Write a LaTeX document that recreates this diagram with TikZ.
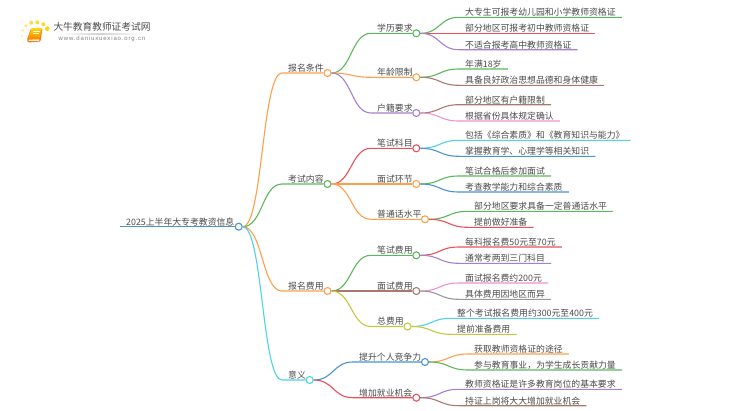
\documentclass[tikz,border=0pt]{standalone}
\usepackage{fontspec}
\setmainfont{Noto Sans CJK SC}
\newfontfamily\urlfont[LetterSpace=14]{Liberation Sans}
\usepackage{tikz}
\usetikzlibrary{calc}

\definecolor{ink}{HTML}{4A4A4A}
\definecolor{lgreen}{HTML}{5CB85C}
\definecolor{lred}{HTML}{E8515A}
\definecolor{lpurple}{HTML}{A67FD0}
\definecolor{lorange}{HTML}{FF9F4A}
\definecolor{lbrown}{HTML}{A9796F}
\definecolor{lpink}{HTML}{EE92D0}
\definecolor{lcyan}{HTML}{4DD3E3}
\definecolor{lblue}{HTML}{4A94D4}
\definecolor{lgrey}{HTML}{999999}
\definecolor{lolive}{HTML}{C6C83E}

\tikzset{
    leaf/.style={anchor=south west, inner xsep=6pt, inner ysep=0.6pt, text height=7.6pt, text depth=0.9pt, text=ink, font=\fontsize{8.85pt}{10pt}\selectfont},
    knot/.style={circle, draw=#1, fill=white, inner sep=0pt, minimum size=7pt, line width=1.1pt},
    link/.style={line width=1.1pt},
    branch/.style={to path={.. controls +(20,0) and +(-20,0) .. (\tikztotarget)}}
}

\begin{document}
\begin{tikzpicture}[x=1pt, y=-1pt]
    \useasboundingbox (0,0) rectangle (750,410);

    % logo
    \fill[yellow!75!orange] (47.3,28.7) circle (2.3);
    \fill[yellow!70!orange, opacity=.85] (43.3,24.3) circle (2);
    \fill[yellow!70!orange, opacity=.8] (37.3,22.3) circle (2);
    \fill[yellow!70!orange, opacity=.75] (31.3,22.7) circle (2);
    \fill[yellow!70!orange, opacity=.6] (26,25.7) circle (1.7);
    \fill[yellow!70!orange, opacity=.45] (22.7,30.3) circle (1.5);
    \fill[yellow!70!orange, opacity=.3] (22,35.7) circle (1.3);
    \fill[yellow!70!orange, opacity=.2] (23,42.3) circle (1);
    \fill[orange!70!brown, rounded corners=1] (31,28.5) -- (42.5,28.5) -- (40.5,41.5) -- (28,42.5) -- (27,39.5) -- cycle;
    \shade[top color=yellow!70!orange, bottom color=orange, rounded corners=1] (31.5,28) -- (42,28) -- (39.5,39) -- (28,39.5) -- cycle;
    \fill[orange!15] (28.8,39.6) -- (39.4,39.3) -- (39.2,40.8) -- (28.6,41) -- cycle;
    \draw[white, line width=.5] (33,31.5) -- (39.5,31.5) (32.5,33.5) -- (39,33.5);
    \node[text=ink, inner sep=0pt, font=\fontsize{9.7pt}{12pt}\selectfont] (sitename) at (102,27) {大牛教育教师证考试网};
    \shade[left color=white, right color=white, middle color=black!18] (60,33) rectangle (142,34);
    \node[text=black!50, inner sep=0pt, font=\urlfont\fontsize{6pt}{7pt}\selectfont] (siteurl) at (102,39) {www.daniuxuexiao.org.cn};

    % main branches
    \node[leaf] (root) at (120,226.7) {2025上半年大专考教资信息};
    \node[knot=lblue] (rootk) at (238.7,226.7) {};
    \draw[link, lblue] (root.south west) -- (rootk.west);

    \node[leaf] (baoming) at (282,73) {报名条件};
    \node[knot=lorange] (baomingk) at (327.5,73) {};
    \draw[link, lorange] (rootk.east) to[branch] (baoming.south west) -- (baomingk.west);

    \node[leaf] (kaoshi) at (282,184) {考试内容};
    \node[knot=lgreen] (kaoshik) at (327.5,184) {};
    \draw[link, lgreen] (rootk.east) to[branch] (kaoshi.south west) -- (kaoshik.west);

    \node[leaf] (feiyong) at (282,291) {报名费用};
    \node[knot=lorange] (feiyongk) at (327.5,291) {};
    \draw[link, lorange] (rootk.east) to[branch] (feiyong.south west) -- (feiyongk.west);

    \node[leaf] (yiyi) at (282,380) {意义};
    \node[knot=lcyan] (yiyik) at (309.7,380) {};
    \draw[link, lcyan] (rootk.east) to[branch] (yiyi.south west) -- (yiyik.west);

    % second level
    \node[leaf] (xueli) at (371,33.3) {学历要求};
    \node[knot=lgreen] (xuelik) at (416.3,33.3) {};
    \draw[link, lgreen] (baomingk.east) to[branch] (xueli.south west) -- (xuelik.west);

    \node[leaf] (nianling) at (371,77.3) {年龄限制};
    \node[knot=lorange] (nianlingk) at (416.3,77.3) {};
    \draw[link, lorange] (baomingk.east) to[branch] (nianling.south west) -- (nianlingk.west);

    \node[leaf] (huji) at (371,113) {户籍要求};
    \node[knot=lpurple] (hujik) at (416.3,113) {};
    \draw[link, lpurple] (baomingk.east) to[branch] (huji.south west) -- (hujik.west);

    \node[leaf] (bishi) at (371,148.3) {笔试科目};
    \node[knot=lred] (bishik) at (416.3,148.3) {};
    \draw[link, lred] (kaoshik.east) to[branch] (bishi.south west) -- (bishik.west);

    \node[leaf] (mianshi) at (371,184) {面试环节};
    \node[knot=lorange] (mianshik) at (416.3,184) {};
    \draw[link, lorange] (kaoshik.east) to[branch] (mianshi.south west) -- (mianshik.west);

    \node[leaf] (putonghua) at (371,219.3) {普通话水平};
    \node[knot=lorange] (putonghuak) at (425,219.3) {};
    \draw[link, lorange] (kaoshik.east) to[branch] (putonghua.south west) -- (putonghuak.west);

    \node[leaf] (bifei) at (371,255.3) {笔试费用};
    \node[knot=lgreen] (bifeik) at (416.3,255.3) {};
    \draw[link, lgreen] (feiyongk.east) to[branch] (bifei.south west) -- (bifeik.west);

    \node[leaf] (mianfei) at (371,291) {面试费用};
    \node[knot=lbrown] (mianfeik) at (416.3,291) {};
    \draw[link, lbrown] (feiyongk.east) to[branch] (mianfei.south west) -- (mianfeik.west);

    \node[leaf] (zongfei) at (371,326.5) {总费用};
    \node[knot=lolive] (zongfeik) at (407.5,326.5) {};
    \draw[link, lolive] (feiyongk.east) to[branch] (zongfei.south west) -- (zongfeik.west);

    \node[leaf] (tisheng) at (353,362) {提升个人竞争力};
    \node[knot=lblue] (tishengk) at (425,362) {};
    \draw[link, lblue] (yiyik.east) to[branch] (tisheng.south west) -- (tishengk.west);

    \node[leaf] (jiuye) at (353,397.7) {增加就业机会};
    \node[knot=lred] (jiuyek) at (416.3,397.7) {};
    \draw[link, lred] (yiyik.east) to[branch] (jiuye.south west) -- (jiuyek.west);

    % leaves
    \node[leaf] (xueli1) at (459,17.3) {大专生可报考幼儿园和小学教师资格证};
    \draw[link, lgreen] (xuelik.east) to[branch] (xueli1.south west) -- (xueli1.south east);
    \node[leaf] (xueli2) at (459,33.3) {部分地区可报考初中教师资格证};
    \draw[link, lred] (xuelik.east) to[branch] (xueli2.south west) -- (xueli2.south east);
    \node[leaf] (xueli3) at (459,49.7) {不适合报考高中教师资格证};
    \draw[link, lpurple] (xuelik.east) to[branch] (xueli3.south west) -- (xueli3.south east);

    \node[leaf] (nianling1) at (459,69) {年满18岁};
    \draw[link, lgreen] (nianlingk.east) to[branch] (nianling1.south west) -- (nianling1.south east);
    \node[leaf] (nianling2) at (459,85.3) {具备良好政治思想品德和身体健康};
    \draw[link, lbrown] (nianlingk.east) to[branch] (nianling2.south west) -- (nianling2.south east);

    \node[leaf] (huji1) at (459,104.7) {部分地区有户籍限制};
    \draw[link, lbrown] (hujik.east) to[branch] (huji1.south west) -- (huji1.south east);
    \node[leaf] (huji2) at (459,121) {根据省份具体规定确认};
    \draw[link, lpink] (hujik.east) to[branch] (huji2.south west) -- (huji2.south east);

    \node[leaf] (bishi1) at (459,140.3) {包括《综合素质》和《教育知识与能力》};
    \draw[link, lcyan] (bishik.east) to[branch] (bishi1.south west) -- (bishi1.south east);
    \node[leaf] (bishi2) at (459,156.3) {掌握教育学、心理学等相关知识};
    \draw[link, lblue] (bishik.east) to[branch] (bishi2.south west) -- (bishi2.south east);

    \node[leaf] (mianshi1) at (459,176) {笔试合格后参加面试};
    \draw[link, lgreen] (mianshik.east) to[branch] (mianshi1.south west) -- (mianshi1.south east);
    \node[leaf] (mianshi2) at (459,192) {考查教学能力和综合素质};
    \draw[link, lblue] (mianshik.east) to[branch] (mianshi2.south west) -- (mianshi2.south east);

    \node[leaf] (putonghua1) at (468,211.3) {部分地区要求具备一定普通话水平};
    \draw[link, lgreen] (putonghuak.east) to[branch] (putonghua1.south west) -- (putonghua1.south east);
    \node[leaf] (putonghua2) at (468,227.3) {提前做好准备};
    \draw[link, lred] (putonghuak.east) to[branch] (putonghua2.south west) -- (putonghua2.south east);

    \node[leaf] (bifei1) at (459,247) {每科报名费50元至70元};
    \draw[link, lred] (bifeik.east) to[branch] (bifei1.south west) -- (bifei1.south east);
    \node[leaf] (bifei2) at (459,263.3) {通常考两到三门科目};
    \draw[link, lpurple] (bifeik.east) to[branch] (bifei2.south west) -- (bifei2.south east);

    \node[leaf] (mianfei1) at (459,283) {面试报名费约200元};
    \draw[link, lpink] (mianfeik.east) to[branch] (mianfei1.south west) -- (mianfei1.south east);
    \node[leaf] (mianfei2) at (459,299.3) {具体费用因地区而异};
    \draw[link, lgrey] (mianfeik.east) to[branch] (mianfei2.south west) -- (mianfei2.south east);

    \node[leaf] (zongfei1) at (451,318.3) {整个考试报名费用约300元至400元};
    \draw[link, lcyan] (zongfeik.east) to[branch] (zongfei1.south west) -- (zongfei1.south east);
    \node[leaf] (zongfei2) at (451,334.3) {提前准备费用};
    \draw[link, lolive] (zongfeik.east) to[branch] (zongfei2.south west) -- (zongfei2.south east);

    \node[leaf] (tisheng1) at (468,354) {获取教师资格证的途径};
    \draw[link, lorange] (tishengk.east) to[branch] (tisheng1.south west) -- (tisheng1.south east);
    \node[leaf] (tisheng2) at (468,370) {参与教育事业，为学生成长贡献力量};
    \draw[link, lgreen] (tishengk.east) to[branch] (tisheng2.south west) -- (tisheng2.south east);

    \node[leaf] (jiuye1) at (459,389.3) {教师资格证是许多教育岗位的基本要求};
    \draw[link, lpurple] (jiuyek.east) to[branch] (jiuye1.south west) -- (jiuye1.south east);
    \node[leaf] (jiuye2) at (459,405.7) {持证上岗将大大增加就业机会};
    \draw[link, lbrown] (jiuyek.east) to[branch] (jiuye2.south west) -- (jiuye2.south east);
\end{tikzpicture}
\end{document}
